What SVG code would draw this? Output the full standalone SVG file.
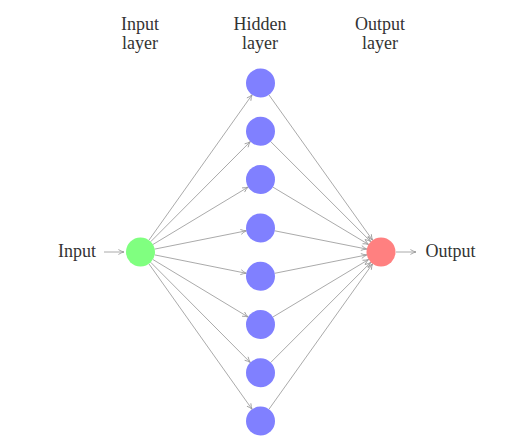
<svg xmlns="http://www.w3.org/2000/svg" width="518" height="446" viewBox="0 0 518 446">
<defs>
<marker id="ah" viewBox="0 0 10 10" refX="9" refY="5" markerWidth="7" markerHeight="7" orient="auto" markerUnits="userSpaceOnUse">
<path d="M1,1.5 Q5,4 9,5 Q5,6 1,8.5" fill="none" stroke="#999" stroke-width="1.2"/>
</marker>
</defs>
<style>
.e{stroke:#a0a0a0;stroke-width:0.9;fill:none;marker-end:url(#ah)}
.t{font-family:"Liberation Serif","Times New Roman",serif;font-size:18px;fill:#333;text-anchor:middle}
.h{fill:#8080ff}
</style>
<rect width="518" height="446" fill="#fff"/>
<g id="connectors">
<line class="e" x1="104" y1="252" x2="124" y2="252"/>
<line class="e" x1="396" y1="252" x2="416" y2="252"/>
<line class="e" x1="148.9" y1="240.2" x2="252.1" y2="94.8"/>
<line class="e" x1="150.7" y1="241.7" x2="250.3" y2="141.6"/>
<line class="e" x1="152.9" y1="244.5" x2="248.1" y2="187.1"/>
<line class="e" x1="154.7" y1="249.1" x2="246.3" y2="230.8"/>
<line class="e" x1="154.7" y1="254.9" x2="246.3" y2="273.3"/>
<line class="e" x1="152.9" y1="259.5" x2="248.1" y2="317.0"/>
<line class="e" x1="150.7" y1="262.3" x2="250.3" y2="362.5"/>
<line class="e" x1="148.9" y1="263.8" x2="252.1" y2="409.3"/>
<line class="e" x1="268.9" y1="94.8" x2="372.6" y2="240.2"/>
<line class="e" x1="270.7" y1="141.6" x2="370.8" y2="241.7"/>
<line class="e" x1="272.9" y1="187.1" x2="368.6" y2="244.5"/>
<line class="e" x1="274.7" y1="230.8" x2="366.8" y2="249.1"/>
<line class="e" x1="274.7" y1="273.3" x2="366.8" y2="254.9"/>
<line class="e" x1="272.9" y1="317.0" x2="368.6" y2="259.5"/>
<line class="e" x1="270.7" y1="362.5" x2="370.8" y2="262.3"/>
<line class="e" x1="268.9" y1="409.3" x2="372.6" y2="263.8"/>
</g>
<g id="input-node"><circle cx="140.5" cy="252" r="14.5" fill="#80ff80"/></g>
<g id="hidden-1"><circle class="h" cx="260.5" cy="83" r="14.5"/></g>
<g id="hidden-2"><circle class="h" cx="260.5" cy="131.3" r="14.5"/></g>
<g id="hidden-3"><circle class="h" cx="260.5" cy="179.6" r="14.5"/></g>
<g id="hidden-4"><circle class="h" cx="260.5" cy="227.9" r="14.5"/></g>
<g id="hidden-5"><circle class="h" cx="260.5" cy="276.2" r="14.5"/></g>
<g id="hidden-6"><circle class="h" cx="260.5" cy="324.5" r="14.5"/></g>
<g id="hidden-7"><circle class="h" cx="260.5" cy="372.8" r="14.5"/></g>
<g id="hidden-8"><circle class="h" cx="260.5" cy="421.1" r="14.5"/></g>
<g id="output-node"><circle cx="381" cy="252" r="14.5" fill="#ff8080"/></g>
<g id="labels">
<text class="t" x="77" y="257">Input</text>
<text class="t" x="450.5" y="257">Output</text>
<text class="t" x="140" y="30">Input</text>
<text class="t" x="140" y="49">layer</text>
<text class="t" x="260" y="30">Hidden</text>
<text class="t" x="260" y="49">layer</text>
<text class="t" x="380" y="30">Output</text>
<text class="t" x="380" y="49">layer</text>
</g>
</svg>
